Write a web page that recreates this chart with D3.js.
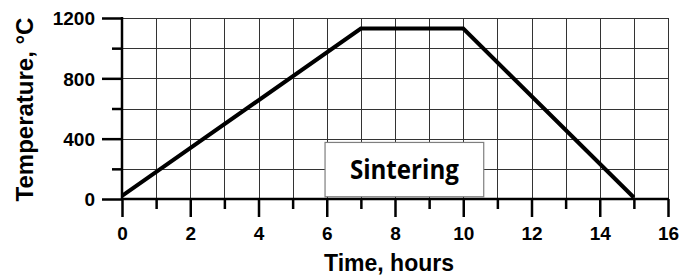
<!DOCTYPE html>
<html>
<head>
<meta charset="utf-8">
<script src="https://cdn.jsdelivr.net/npm/d3@7"></script>
<style>
  body { margin: 0; background: #fff; }
  svg { display: block; }
</style>
</head>
<body>
<svg id="chart" width="690" height="277"></svg>
<script>
// profile points (hours, °C)
const timeHours = [0, 7, 10, 15];
const temperatures = [20, 1130, 1130, 10];
const xTicks = [0, 2, 4, 6, 8, 10, 12, 14, 16];
const yTicks = [0, 400, 800, 1200];
const boxLabel = 'Sintering';

const svg = d3.select('#chart');
const width = 690;
const height = 277;
const margin = { left: 122, right: 22, top: 18, bottom: 78 };

const x = d3.scaleLinear().domain([0, 16]).range([margin.left, width - margin.right]);
const y = d3.scaleLinear().domain([0, 1200]).range([height - margin.bottom, margin.top]);

const grid = svg.append('g').attr('shape-rendering', 'crispEdges');
// vertical grid, every hour
grid.selectAll('.vg')
  .data(d3.range(1, 17))
  .join('line')
  .attr('x1', (d) => Math.round(x(d)) + 0.5)
  .attr('x2', (d) => Math.round(x(d)) + 0.5)
  .attr('y1', y(1200))
  .attr('y2', y(0))
  .attr('stroke', '#333')
  .attr('stroke-width', 1);
// horizontal grid, every 200
grid.selectAll('.hg')
  .data(d3.range(200, 1201, 200))
  .join('line')
  .attr('x1', x(0))
  .attr('x2', x(16))
  .attr('y1', (d) => Math.round(y(d)) + 0.5)
  .attr('y2', (d) => Math.round(y(d)) + 0.5)
  .attr('stroke', '#333')
  .attr('stroke-width', 1);

// label box
const bx0 = x(5.95), bx1 = x(10.6);
const by0 = y(375), by1 = y(15);
svg.append('rect')
  .attr('x', bx0)
  .attr('y', by0)
  .attr('width', bx1 - bx0)
  .attr('height', by1 - by0)
  .attr('fill', '#fff')
  .attr('stroke', '#7f7f7f')
  .attr('stroke-width', 1.2);
svg.append('text')
  .attr('x', (bx0 + bx1) / 2)
  .attr('y', by0 + 37)
  .attr('text-anchor', 'middle')
  .attr('font-family', 'Open Sans')
  .attr('font-weight', 'bold')
  .attr('font-size', 26)
  .attr('textLength', 109)
  .attr('lengthAdjust', 'spacingAndGlyphs')
  .attr('fill', '#000')
  .text(boxLabel);

// axes
const yAxis = d3.axisLeft(y)
  .tickValues(d3.range(0, 1201, 200))
  .tickSize(20)
  .tickFormat((d) => (yTicks.includes(d) ? d : ''));
const gy = svg.append('g').attr('transform', `translate(${x(0)},0)`).call(yAxis);
gy.select('.domain').remove();
gy.selectAll('.tick line')
  .attr('x2', (d) => (yTicks.includes(d) ? -20 : -10))
  .attr('stroke', '#000')
  .attr('stroke-width', 2.5);
gy.selectAll('.tick text')
  .attr('x', -27)
  .attr('dy', '0.36em')
  .attr('font-family', 'Liberation Sans, Arial, sans-serif')
  .attr('font-weight', 'bold')
  .attr('font-size', 19)
  .attr('fill', '#000');

const xAxis = d3.axisBottom(x)
  .tickValues(d3.range(0, 17, 1))
  .tickSize(18)
  .tickFormat((d) => (xTicks.includes(d) ? d : ''));
const gx = svg.append('g').attr('transform', `translate(0,${y(0)})`).call(xAxis);
gx.select('.domain').remove();
gx.selectAll('.tick line')
  .attr('y2', (d) => (xTicks.includes(d) ? 18 : 10))
  .attr('stroke', '#000')
  .attr('stroke-width', 2.5);
gx.selectAll('.tick text')
  .attr('y', 28)
  .attr('dy', '0.71em')
  .attr('font-family', 'Liberation Sans, Arial, sans-serif')
  .attr('font-weight', 'bold')
  .attr('font-size', 19)
  .attr('fill', '#000');

// axis lines
svg.append('line')
  .attr('x1', x(0)).attr('x2', x(0))
  .attr('y1', y(1200) - 1).attr('y2', y(0))
  .attr('stroke', '#000').attr('stroke-width', 2.5);
svg.append('line')
  .attr('x1', x(0)).attr('x2', x(16) + 1)
  .attr('y1', y(0)).attr('y2', y(0))
  .attr('stroke', '#000').attr('stroke-width', 2.5);

// profile line
const line = d3.line()
  .x((d, i) => x(timeHours[i]))
  .y((d) => y(d));
svg.append('path')
  .attr('d', line(temperatures))
  .attr('fill', 'none')
  .attr('stroke', '#000')
  .attr('stroke-width', 4)
  .attr('stroke-linejoin', 'miter');

// axis titles
svg.append('text')
  .attr('transform', `translate(33,${(y(0) + 12) / 2 + 4}) rotate(-90)`)
  .attr('text-anchor', 'middle')
  .attr('font-family', 'Liberation Sans, Arial, sans-serif')
  .attr('font-weight', 'bold')
  .attr('font-size', 24)
  .attr('fill', '#000')
  .text('Temperature, °C');

svg.append('text')
  .attr('x', 389)
  .attr('y', 271)
  .attr('text-anchor', 'middle')
  .attr('font-family', 'Liberation Sans, Arial, sans-serif')
  .attr('font-weight', 'bold')
  .attr('font-size', 23)
  .attr('fill', '#000')
  .text('Time, hours');
</script>
</body>
</html>
